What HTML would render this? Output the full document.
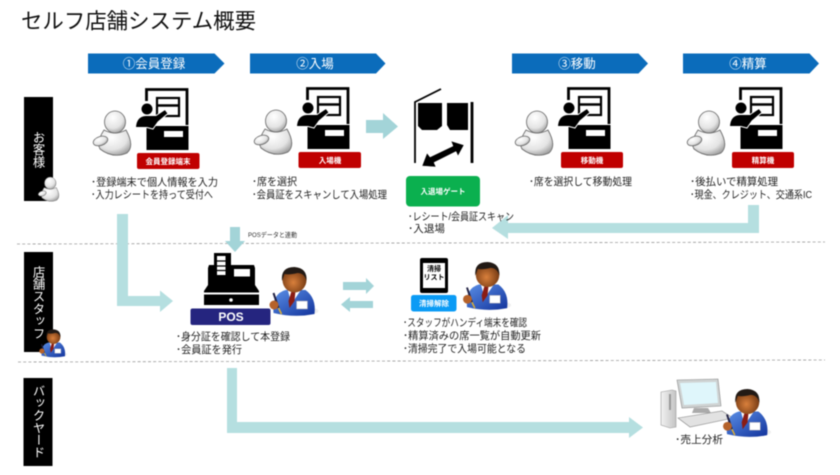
<!DOCTYPE html>
<html lang="ja"><head><meta charset="utf-8"><title>セルフ店舗システム概要</title>
<style>
html,body{margin:0;padding:0;background:#fff;width:840px;height:475px;overflow:hidden}
svg{display:block;filter:blur(.4px)}
text{font-family:"Liberation Sans","Noto Sans CJK JP",sans-serif;fill:#222}
.b{font-size:10.5px}
.w{fill:#fff;font-weight:700;text-anchor:middle}
.h{fill:#fff;font-size:12.5px;text-anchor:middle}
.v{fill:#fff;font-size:12.3px;writing-mode:vertical-rl;text-anchor:middle}
</style></head><body>
<svg width="840" height="475" viewBox="0 0 840 475" xmlns="http://www.w3.org/2000/svg">
<defs>
<radialGradient id="g" cx=".4" cy=".3" r=".8"><stop offset="0" stop-color="#fff"/><stop offset=".6" stop-color="#e4e4e4"/><stop offset="1" stop-color="#8f8f8f"/></radialGradient>
<radialGradient id="sk" cx=".45" cy=".6" r=".6"><stop offset="0" stop-color="#d9803c"/><stop offset="1" stop-color="#6e3510"/></radialGradient>
<linearGradient id="bl" x1="0" y1="0" x2="1" y2="1"><stop offset="0" stop-color="#5b8fe6"/><stop offset="1" stop-color="#12339c"/></linearGradient>
<linearGradient id="tw" x1="0" y1="0" x2="1" y2="0"><stop offset="0" stop-color="#f2f2f2"/><stop offset="1" stop-color="#c4c4c4"/></linearGradient>
<g id="cust">
<path d="M104 130Q96 142 100 149Q113 159 127 153Q135 146 126 130Q115 136 104 130Z" fill="url(#g)" stroke="#666" stroke-width=".8"/>
<ellipse cx="115" cy="122" rx="10.500" ry="11" fill="url(#g)" stroke="#666" stroke-width=".8"/>
<ellipse cx="100.500" cy="141" rx="7.500" ry="4.500" transform="rotate(-18 100.500 141)" fill="url(#g)" stroke="#666" stroke-width=".8"/>
</g>
<g id="kiosk">
<path d="M146.500 101V89.500H187V125" fill="none" stroke="#000" stroke-width="2.800"/>
<rect x="157" y="98" width="22" height="18" fill="#fff" stroke="#000" stroke-width="2.200"/>
<path d="M157 105.500H179" stroke="#000" stroke-width="2.600"/>
<rect x="146.500" y="126" width="42" height="24" fill="#000"/>
<rect x="164" y="131" width="19" height="6" fill="#fff"/>
<path d="M135.500 127.500Q136 116 146 115.500L156 115.500L165 109.500L168 113.500L158 122L153 129L147 127.500Z" fill="#000" stroke="#fff" stroke-width="1"/>
<circle cx="147" cy="109" r="5.500" fill="#000"/>
</g>
<g id="staff">
<ellipse cx="24" cy="43" rx="22" ry="5" fill="#ddd" opacity=".5"/>
<path d="M1 45Q-1 26 13 22L33 22Q44 30 42 46Q22 50 1 45Z" fill="url(#bl)"/>
<path d="M15 21L19 36L29 21Z" fill="#fff"/>
<path d="M19 23L23 23L22 33L17 40L16 33Z" fill="#8a1c14"/>
<rect x="24" y="33" width="11" height="8" fill="#fff" stroke="#99a" stroke-width=".5"/>
<ellipse cx="22" cy="12" rx="12" ry="12.500" fill="url(#sk)"/>
<path d="M9.500 13Q8 -1 22 -1Q35 0 34 13Q32 5 25 5Q17 7 12 6Q11 9 9.500 13Z" fill="#221a15"/>
<path d="M1 25L6 40" stroke="#224" stroke-width="2"/>
<path d="M6 40L9 46" stroke="#e0b030" stroke-width="1.500"/>
<circle cx="1.500" cy="37" r="4.500" fill="#b5622a"/>
</g>
</defs>

<text x="21" y="28.500" font-size="21.500" textLength="235" lengthAdjust="spacingAndGlyphs" style="fill:#111">セルフ店舗システム概要</text>

<g fill="#0b6cbb">
<path d="M88 53.500H214.500L224.500 63.500L214.500 73.500H88Z"/>
<path d="M250 53.500H376L385.500 63.500L376 73.500H250Z"/>
<path d="M512 53.500H638.500L648 63.500L638.500 73.500H512Z"/>
<path d="M683 53.500H809.500L819 63.500L809.500 73.500H683Z"/>
</g>
<text class="h" x="154" y="68">①会員登録</text>
<text class="h" x="315" y="68">②入場</text>
<text class="h" x="577" y="68">③移動</text>
<text class="h" x="748" y="68">④精算</text>

<rect x="24" y="97" width="29" height="104" fill="#000"/>
<rect x="24" y="252" width="29" height="100" fill="#000"/>
<rect x="23.500" y="378" width="29" height="88" fill="#000"/>
<text class="v" x="38" y="149.500">お客様</text>
<text class="v" x="38" y="302.500">店舗スタッフ</text>
<text class="v" x="38" y="421.500">バックヤード</text>
<use href="#cust" transform="translate(-13 116) scale(.55)"/>
<use href="#staff" transform="translate(41 330) scale(.57)"/>

<g stroke="#9a9a9a" stroke-width=".8" stroke-dasharray="3 2.200" fill="none">
<path d="M17 244L825 242"/>
<path d="M18 362L825 360"/>
</g>

<g fill="#b5dfe0">
<path d="M117 214H128V296H160V290.500L173 301L160 312V306H117Z"/>
<path d="M748 205H759V233H508V239L492 228L508 215V223H748Z"/>
<path d="M227 368H237V422H629V417L643 427.500L629 438V433H227Z"/>
</g>
<g fill="#a3d4d8">
<path d="M366 120H383V113L398 126.500L383 139V133H366Z"/>
<path d="M230 227H240V241H245L235 252L225 241H230Z"/>
<path d="M343 282H366V278L374 286L366 294V290H343Z"/>
<path d="M373 301V308H350V312L341 304.500L350 297V301Z"/>
</g>

<use href="#cust"/><use href="#kiosk"/>
<use href="#cust" transform="translate(161 -1)"/><use href="#kiosk" transform="translate(161 -1)"/>
<use href="#cust" transform="translate(422 0)"/><use href="#kiosk" transform="translate(422 -1)"/>
<use href="#cust" transform="translate(594 0)"/><use href="#kiosk" transform="translate(594 -1)"/>

<g fill="#c00000">
<rect x="137" y="153" width="62.500" height="16" rx="2"/>
<rect x="298.500" y="152" width="62.500" height="16" rx="2"/>
<rect x="561" y="152" width="62" height="16" rx="2"/>
<rect x="732" y="152" width="62" height="16" rx="2"/>
</g>
<text class="w" x="168" y="164" font-size="7.500">会員登録端末</text>
<text class="w" x="330" y="163" font-size="7.500">入場機</text>
<text class="w" x="592" y="163" font-size="7.500">移動機</text>
<text class="w" x="763" y="163" font-size="7.500">精算機</text>

<g lengthAdjust="spacingAndGlyphs">
<text class="b" x="91" y="185.500" textLength="127" lengthAdjust="spacingAndGlyphs">･登録端末で個人情報を入力</text>
<text class="b" x="91" y="198" textLength="122" lengthAdjust="spacingAndGlyphs">･入力レシートを持って受付へ</text>
<text class="b" x="252" y="185" textLength="45" lengthAdjust="spacingAndGlyphs">･席を選択</text>
<text class="b" x="252" y="198" textLength="135" lengthAdjust="spacingAndGlyphs">･会員証をスキャンして入場処理</text>
<text class="b" x="529" y="185" textLength="103" lengthAdjust="spacingAndGlyphs">･席を選択して移動処理</text>
<text class="b" x="690" y="185" textLength="88" lengthAdjust="spacingAndGlyphs">･後払いで精算処理</text>
<text class="b" x="690" y="198" textLength="122" lengthAdjust="spacingAndGlyphs">･現金、クレジット、交通系IC</text>
</g>

<!-- gate -->
<path d="M415 163V102L441 89" fill="none" stroke="#000" stroke-width="1.800"/>
<path d="M418 103H442V126L437 130H422L418 126Z" fill="#000"/>
<path d="M447 103H468V130H454L450 130L447 125Z" fill="#000"/>
<path d="M472 102V163" stroke="#000" stroke-width="2.800"/>
<path d="M422 166L427 153L430 157L453 146L451 141L464 145L458 156L456 151.500L434 162.500L436 167Z" fill="#000" stroke="#fff" stroke-width=".5"/>
<rect x="406" y="176" width="74" height="30.500" rx="4" fill="#0bb04f"/>
<text class="w" x="443" y="194" font-size="7.500">入退場ゲート</text>
<text class="b" x="408" y="220" textLength="106" lengthAdjust="spacingAndGlyphs">･レシート/会員証スキャン</text>
<text class="b" x="408" y="232" textLength="37" lengthAdjust="spacingAndGlyphs">･入退場</text>

<text x="248" y="237" font-size="6.500" textLength="49" lengthAdjust="spacingAndGlyphs" style="fill:#333">POSデータと連動</text>

<!-- POS -->
<path d="M209 265H254L255 268V285L259 291V292.500H204V291L208 285V268Z" fill="#000"/>
<rect x="214" y="253" width="17" height="28" fill="#000"/>
<rect x="217" y="256" width="8.500" height="19" fill="#fff"/>
<path d="M217 261H225.500M217 266H225.500M217 270.500H225.500" stroke="#000" stroke-width="1.300"/>
<rect x="234" y="269" width="16" height="7.500" fill="#fff"/>
<rect x="204" y="294.500" width="55" height="10.500" fill="#000"/>
<circle cx="231" cy="300" r="1.800" fill="#fff"/>
<rect x="190.500" y="308.500" width="80" height="16.500" rx="2" fill="#25257f"/>
<text class="w" x="231" y="321" font-size="12">POS</text>
<use href="#staff" transform="translate(272.500 268)"/>
<text class="b" x="176" y="340" textLength="114" lengthAdjust="spacingAndGlyphs">･身分証を確認して本登録</text>
<text class="b" x="176" y="353" textLength="66" lengthAdjust="spacingAndGlyphs">･会員証を発行</text>

<!-- handy -->
<rect x="420" y="258" width="28" height="35" rx="2" fill="#000"/>
<rect x="423" y="263" width="22" height="25" fill="#fff"/>
<text x="434" y="271" font-size="7" font-weight="700" text-anchor="middle" style="fill:#000">清掃</text>
<text x="434" y="279.500" font-size="7" font-weight="700" text-anchor="middle" style="fill:#000">リスト</text>
<rect x="411" y="295" width="45.500" height="16.500" rx="2.500" fill="#0a9bf5"/>
<text class="w" x="434" y="306" font-size="7.500">清掃解除</text>
<use href="#staff" transform="translate(466 263) scale(.98)"/>
<text class="b" x="403" y="326" textLength="124" lengthAdjust="spacingAndGlyphs">･スタッフがハンディ端末を確認</text>
<text class="b" x="403" y="339" textLength="138" lengthAdjust="spacingAndGlyphs">･精算済みの席一覧が自動更新</text>
<text class="b" x="403" y="352" textLength="123" lengthAdjust="spacingAndGlyphs">･清掃完了で入場可能となる</text>

<!-- PC -->
<path d="M661 392L672 390L676 391V427L670 428L661 425Z" fill="url(#tw)" stroke="#999" stroke-width=".6"/>
<path d="M670 394V410" stroke="#999" stroke-width="2"/>
<path d="M677 380L718 379L721 406L682 408Z" fill="#cfd3d3" stroke="#888" stroke-width=".6"/>
<path d="M680 383L716 382L718 403L684 405Z" fill="#dff6fb"/>
<path d="M694 408H708L711 413H692Z" fill="#aaa"/>
<path d="M678 418L722 411L733 418L690 427Z" fill="#e2e2e2" stroke="#888" stroke-width=".6"/>
<use href="#staff" transform="translate(726 390) scale(.98)"/>
<text class="b" x="675" y="443" textLength="48" lengthAdjust="spacingAndGlyphs">･売上分析</text>
</svg>
</body></html>
